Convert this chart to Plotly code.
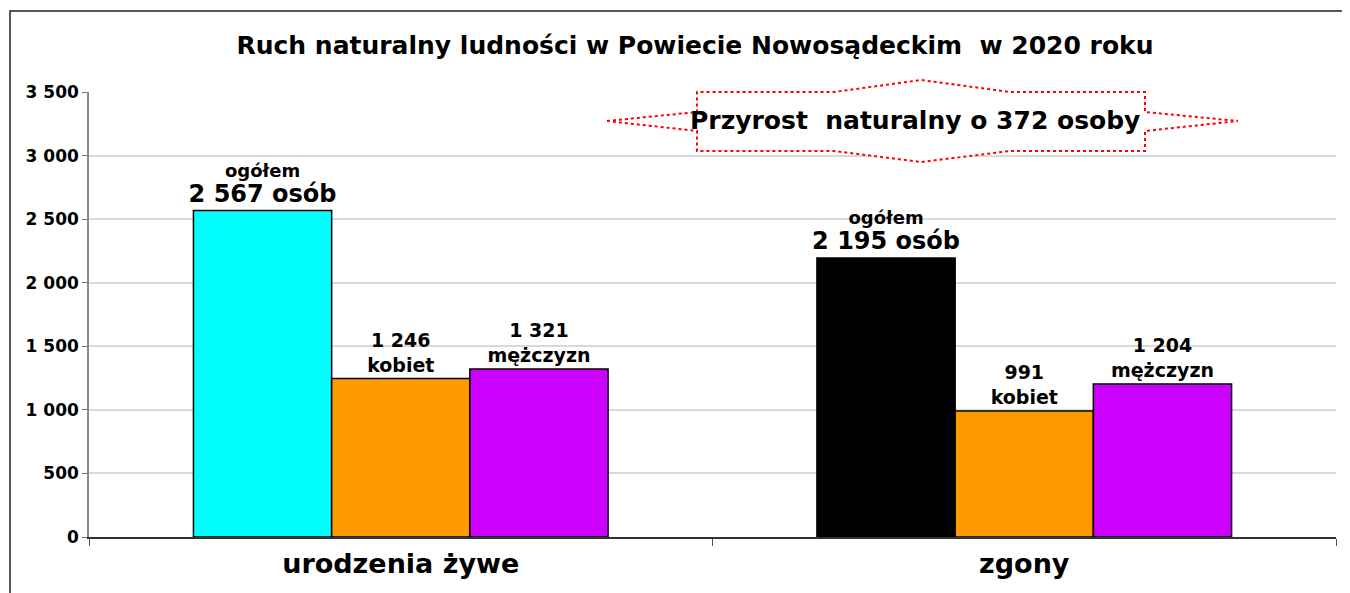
import plotly.graph_objects as go

categories = ["urodzenia żywe", "zgony"]
total_values = [2567, 2195]
women_values = [1246, 991]
men_values = [1321, 1204]
total_colors = ["#00FFFF", "#000000"]
y_ticks = [0, 500, 1000, 1500, 2000, 2500, 3000, 3500]
title_text = "Ruch naturalny ludności w Powiecie Nowosądeckim  w 2020 roku"
note_text = "Przyrost  naturalny o 372 osoby"

# page body has an 8px default margin -> work in page pixels, shift by OFF
OFF = 8
W, H = 1350 - OFF, 593 - OFF
ML, MR, MT, MB = 89 - OFF, 14, 92 - OFF, 56
PW, PH = W - ML - MR, H - MT - MB


def fmt(v):
    return f"{v:,}".replace(",", " ")


def px(x, y):
    """page pixel -> paper coordinates"""
    return (x - OFF - ML) / PW, 1 - (y - OFF - MT) / PH


FONT = "DejaVu Sans, Liberation Sans, Arial, sans-serif"

fig = go.Figure()
fig.add_trace(go.Bar(
    x=categories, y=total_values, name="ogółem",
    marker=dict(color=total_colors, line=dict(color="#000000", width=1.5)),
    text=[f"<b><span style='font-size:18px'>ogółem</span></b><br>"
          f"<b><span style='font-size:24px'>{fmt(v)} osób</span></b>" for v in total_values],
    textposition="outside", textfont=dict(family=FONT, size=19, color="#000000"),
    constraintext="none", cliponaxis=False,
))
fig.add_trace(go.Bar(
    x=categories, y=women_values, name="kobiety",
    marker=dict(color="#FF9900", line=dict(color="#000000", width=1.5)),
    text=[f"<b>{fmt(v)}<br>kobiet</b>" for v in women_values],
    textposition="outside", textfont=dict(family=FONT, size=19, color="#000000"),
    constraintext="none", cliponaxis=False,
))
fig.add_trace(go.Bar(
    x=categories, y=men_values, name="mężczyźni",
    marker=dict(color="#CC00FF", line=dict(color="#000000", width=1.5)),
    text=[f"<b>{fmt(v)}<br>mężczyzn</b>" for v in men_values],
    textposition="outside", textfont=dict(family=FONT, size=19, color="#000000"),
    constraintext="none", cliponaxis=False,
))

star_pts = [(607, 121), (697, 112), (697, 92), (834, 92), (921, 80), (1010, 92),
            (1145, 92), (1145, 112), (1238, 121), (1145, 131), (1145, 151),
            (1010, 151), (921, 162), (834, 151), (697, 151), (697, 131)]
path = ""
for i, (x, y) in enumerate(star_pts):
    a, b = px(x, y)
    path += ("M" if i == 0 else "L") + f"{a:.5f},{b:.5f} "
path += "Z"

fx0, fy0 = px(10, 11)
fx1, fy1 = px(1365, 610)

fig.update_layout(
    width=W, height=H,
    margin=dict(l=ML, r=MR, t=MT, b=MB),
    paper_bgcolor="white", plot_bgcolor="white",
    showlegend=False,
    barmode="group", bargap=0.335, bargroupgap=0,
    font=dict(family=FONT, color="#000000"),
    separators=", ",
    title=dict(text=f"<b>{title_text}</b>", x=(695 - OFF) / W, xref="container", xanchor="center",
               y=1 - (45 - OFF) / H, yref="container", yanchor="middle",
               font=dict(family=FONT, size=25, color="#000000")),
    xaxis=dict(
        tickson="boundaries", ticks="outside", ticklen=7, tickwidth=1, tickcolor="#555555",
        showline=True, linecolor="#333333", linewidth=1.5,
        tickfont=dict(family=FONT, size=27, color="#000000"),
        tickvals=categories, ticktext=[f"<b>{c}</b>" for c in categories],
        ticklabelstandoff=2,
    ),
    yaxis=dict(
        range=[0, 3500], tickvals=y_ticks, ticktext=[f"<b>{fmt(v)}</b>" for v in y_ticks],
        ticks="outside", ticklen=5, tickcolor="#777777", tickwidth=1,
        showline=True, linecolor="#888888", linewidth=1.5,
        showgrid=True, gridcolor="#d9d9d9", gridwidth=1.5,
        zeroline=False,
        tickfont=dict(family=FONT, size=17, color="#000000"),
    ),
    shapes=[
        dict(type="rect", xref="paper", yref="paper", x0=fx0, y0=fy1, x1=fx1, y1=fy0,
             line=dict(color="#222222", width=1.5), fillcolor="rgba(0,0,0,0)", layer="above"),
        dict(type="path", xref="paper", yref="paper", path=path,
             line=dict(color="#FF0000", width=2, dash="dot"), fillcolor="white", layer="above"),
    ],
    annotations=[
        dict(text=f"<b>{note_text}</b>", xref="paper", yref="paper",
             x=px(915, 121)[0], y=px(915, 121)[1], xanchor="center", yanchor="middle",
             showarrow=False, font=dict(family=FONT, size=25, color="#000000")),
    ],
)

fig.write_html("out.html")
